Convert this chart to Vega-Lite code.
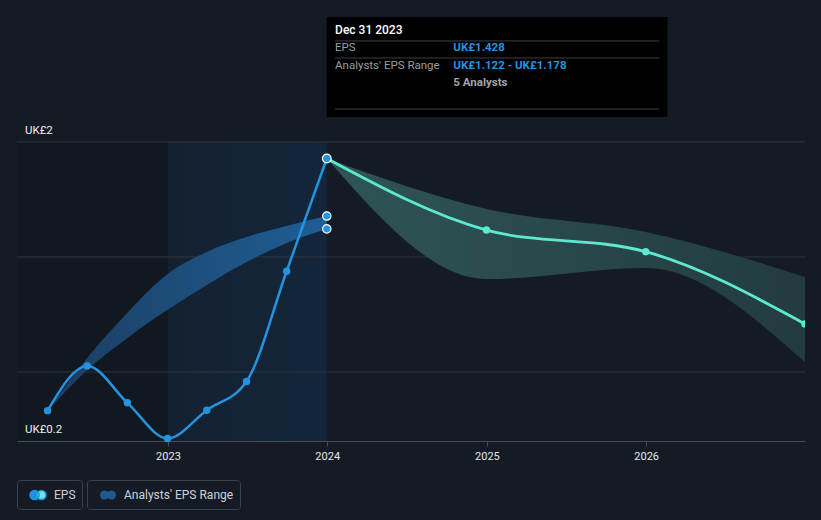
{
  "$schema": "https://vega.github.io/schema/vega-lite/v6.json",
  "width": 788,
  "height": 441,
  "autosize": {"type": "none"},
  "padding": {"left": 17, "right": 16, "top": 0, "bottom": 79},
  "background": "#151b24",
  "config": {
    "view": {"stroke": null},
    "font": "Roboto",
    "axisX": {
      "labelColor": "#e6e8ea",
      "labelFontSize": 11,
      "labelFont": "Roboto",
      "domainColor": "#474d55",
      "tickColor": "#474d55",
      "tickSize": 5,
      "labelPadding": 4,
      "grid": false
    },
    "legend": {"layout": {"bottom": {"anchor": "start", "direction": "horizontal", "margin": 5}}}
  },
  "datasets": {
    "eps": [
      {"date": "2022-03-31", "eps": 0.332},
      {"date": "2022-06-30", "eps": 0.526},
      {"date": "2022-09-30", "eps": 0.366},
      {"date": "2022-12-31", "eps": 0.211},
      {"date": "2023-03-31", "eps": 0.334},
      {"date": "2023-06-30", "eps": 0.459},
      {"date": "2023-09-30", "eps": 0.938},
      {"date": "2023-12-31", "eps": 1.428}
    ],
    "pastRange": [
      {"date": "2022-03-31", "low": 0.332, "high": 0.332},
      {"date": "2022-06-30", "low": 0.509, "high": 0.561},
      {"date": "2022-09-30", "low": 0.648, "high": 0.757},
      {"date": "2022-12-31", "low": 0.770, "high": 0.926},
      {"date": "2023-03-31", "low": 0.878, "high": 1.022},
      {"date": "2023-06-30", "low": 0.978, "high": 1.087},
      {"date": "2023-09-30", "low": 1.061, "high": 1.135},
      {"date": "2023-12-31", "low": 1.122, "high": 1.178}
    ],
    "forecast": [
      {"date": "2023-12-31", "eps": 1.428, "low": 1.428, "high": 1.428},
      {"date": "2024-12-31", "eps": 1.117, "low": 0.904, "high": 1.209},
      {"date": "2025-12-31", "eps": 1.023, "low": 0.952, "high": 1.109},
      {"date": "2026-12-31", "eps": 0.709, "low": 0.543, "high": 0.913}
    ],
    "rangeEnds": [
      {"date": "2023-12-31", "eps": 1.178},
      {"date": "2023-12-31", "eps": 1.122}
    ],
    "grid": [{"v": 0.5}, {"v": 1.0}, {"v": 1.5}],
    "ylabels": [
      {"date": "2022-01-20", "v": 1.5, "label": "UK£2"},
      {"date": "2022-01-20", "v": 0.2, "label": "UK£0.2"}
    ],
    "before": [{"date": "2022-01-20", "end": "2023-01-01"}],
    "lastYear": [{"date": "2023-01-01", "end": "2023-12-31"}],
    "tipBox": [{"date": "2023-12-31", "end": "2026-02-19"}],
    "tipSeps": [
      {"date": "2024-01-19", "end": "2026-01-31", "v": 1.939},
      {"date": "2024-01-19", "end": "2026-01-31", "v": 1.865},
      {"date": "2024-01-19", "end": "2026-01-31", "v": 1.643}
    ],
    "tipTitle": [{"date": "2024-01-19", "v": 1.987, "label": "Dec 31 2023"}],
    "tipKeys": [
      {"date": "2024-01-19", "v": 1.909, "label": "EPS"},
      {"date": "2024-01-19", "v": 1.830, "label": "Analysts' EPS Range"}
    ],
    "tipVals": [
      {"date": "2024-10-16", "v": 1.909, "label": "UK£1.428"},
      {"date": "2024-10-16", "v": 1.830, "label": "UK£1.122 - UK£1.178"}
    ],
    "tipNote": [{"date": "2024-10-16", "v": 1.757, "label": "5 Analysts"}]
  },
  "layer": [
    {
      "data": {"name": "before"},
      "mark": {"type": "rect", "color": "rgba(0,0,0,0.1)"},
      "encoding": {
        "x": {"field": "date", "type": "temporal", "scale": {"domain": [{"year": 2022, "month": 1, "date": 20}, {"year": 2026, "month": 12, "date": 31}]}, "axis": {"title": null}},
        "x2": {"field": "end"},
        "y": {"datum": 0.2, "type": "quantitative", "scale": {"domain": [0.2, 2.117], "nice": false, "zero": false}, "axis": null},
        "y2": {"datum": 1.5}
      }
    },
    {
      "data": {"name": "lastYear"},
      "mark": {"type": "rect", "color": {"gradient": "linear", "x1": 0, "x2": 1, "y1": 0, "y2": 0, "stops": [{"offset": 0, "color": "rgba(15,60,106,0.17)"}, {"offset": 1, "color": "rgba(15,60,106,0.34)"}]}},
      "encoding": {
        "x": {"field": "date", "type": "temporal", "axis": {"title": null}},
        "x2": {"field": "end"},
        "y": {"datum": 0.2, "type": "quantitative", "axis": null},
        "y2": {"datum": 1.5}
      }
    },
    {
      "data": {"name": "grid"},
      "mark": {"type": "rule", "color": "#2f353e", "strokeWidth": 1},
      "encoding": {
        "y": {"field": "v", "type": "quantitative", "axis": null}
      }
    },
    {
      "mark": {"type": "rule", "color": "#1f3b57", "strokeWidth": 1},
      "encoding": {
        "x": {"datum": {"year": 2023, "month": 1, "date": 1}, "type": "temporal", "axis": {"title": null}},
        "y": {"datum": 0.2, "type": "quantitative", "axis": null},
        "y2": {"datum": 1.5}
      }
    },
    {
      "mark": {"type": "rule", "color": "#2c465f", "strokeWidth": 1},
      "encoding": {
        "x": {"datum": {"year": 2023, "month": 12, "date": 31}, "type": "temporal", "axis": {"title": null}},
        "y": {"datum": 0.2, "type": "quantitative", "axis": null},
        "y2": {"datum": 2.0435}
      }
    },
    {
      "data": {"name": "pastRange"},
      "mark": {"type": "area", "interpolate": "monotone", "color": {"gradient": "linear", "x1": 0, "x2": 1, "y1": 0, "y2": 0, "stops": [{"offset": 0, "color": "#1b3d61"}, {"offset": 1, "color": "#1f5e95"}]}},
      "encoding": {
        "x": {"field": "date", "type": "temporal", "axis": {"title": null}},
        "y": {"field": "high", "type": "quantitative", "axis": null},
        "y2": {"field": "low"}
      }
    },
    {
      "data": {"name": "forecast"},
      "mark": {"type": "area", "interpolate": "monotone", "color": {"gradient": "linear", "x1": 0, "x2": 1, "y1": 0, "y2": 0, "stops": [{"offset": 0, "color": "#2f5556"}, {"offset": 1, "color": "#223b3f"}]}},
      "encoding": {
        "x": {"field": "date", "type": "temporal", "axis": {"title": null}},
        "y": {"field": "high", "type": "quantitative", "axis": null},
        "y2": {"field": "low"}
      }
    },
    {
      "data": {"name": "eps"},
      "mark": {"type": "line", "interpolate": "monotone", "strokeWidth": 2.5},
      "encoding": {
        "x": {
          "field": "date",
          "type": "temporal",
          "axis": {
            "title": null,
            "format": "%Y",
            "tickCount": {"interval": "year", "step": 1}
          }
        },
        "y": {"field": "eps", "type": "quantitative", "axis": null},
        "color": {
          "datum": "EPS",
          "type": "nominal",
          "scale": {"range": ["#2394df"]},
          "legend": {
            "title": null,
            "orient": "bottom",
            "direction": "horizontal",
            "symbolType": "M-1,0a0.57,0.57 0 1,0 1.14,0a0.57,0.57 0 1,0 -1.14,0ZM-0.14,0a0.57,0.57 0 1,0 1.14,0a0.57,0.57 0 1,0 -1.14,0Z",
            "symbolSize": 256,
            "symbolOpacity": 1,
            "labelFontSize": 12,
            "labelColor": "#cdd1d6",
            "labelFont": "Roboto",
            "labelOffset": 7,
            "strokeColor": "#3b424c",
            "fillColor": "#151b24",
            "padding": 6,
            "cornerRadius": 3,
            "symbolOffset": 6,
            "offset": 19,
            "encode": {
              "symbols": {
                "update": {
                  "fill": {"value": {"gradient": "linear", "x1": 0, "x2": 1, "y1": 0, "y2": 0, "stops": [{"offset": 0, "color": "#1f90e6"}, {"offset": 0.43, "color": "#1f90e6"}, {"offset": 0.43, "color": "#6ce6d6"}, {"offset": 1, "color": "#6ce6d6"}]}},
                  "stroke": {"value": "transparent"},
                  "opacity": {"value": 1}
                }
              }
            }
          }
        }
      }
    },
    {
      "data": {"name": "pastRange"},
      "mark": {"type": "area", "interpolate": "monotone", "opacity": 0},
      "encoding": {
        "x": {"field": "date", "type": "temporal", "axis": {"title": null}},
        "y": {"field": "high", "type": "quantitative", "axis": null},
        "y2": {"field": "low"},
        "fill": {
          "datum": "Analysts' EPS Range",
          "type": "nominal",
          "scale": {"range": ["#1f5a8c"]},
          "legend": {
            "title": null,
            "orient": "bottom",
            "direction": "horizontal",
            "symbolType": "M-1,0a0.57,0.57 0 1,0 1.14,0a0.57,0.57 0 1,0 -1.14,0ZM-0.14,0a0.57,0.57 0 1,0 1.14,0a0.57,0.57 0 1,0 -1.14,0Z",
            "symbolSize": 256,
            "symbolOpacity": 1,
            "labelFontSize": 12,
            "labelColor": "#cdd1d6",
            "labelFont": "Roboto",
            "labelOffset": 7,
            "strokeColor": "#3b424c",
            "fillColor": "#151b24",
            "padding": 6,
            "cornerRadius": 3,
            "symbolOffset": 6,
            "offset": 19,
            "encode": {
              "symbols": {
                "update": {
                  "fill": {"value": {"gradient": "linear", "x1": 0, "x2": 1, "y1": 0, "y2": 0, "stops": [{"offset": 0, "color": "#235e8e"}, {"offset": 0.43, "color": "#235e8e"}, {"offset": 0.43, "color": "#3d7f7b"}, {"offset": 1, "color": "#3d7f7b"}]}},
                  "stroke": {"value": "transparent"},
                  "opacity": {"value": 1}
                }
              }
            }
          }
        }
      }
    },
    {
      "data": {"name": "forecast"},
      "mark": {"type": "line", "interpolate": "monotone", "strokeWidth": 2.8, "color": "#5ee8d0"},
      "encoding": {
        "x": {"field": "date", "type": "temporal", "axis": {"title": null}},
        "y": {"field": "eps", "type": "quantitative", "axis": null}
      }
    },
    {
      "data": {"name": "eps"},
      "transform": [{"filter": {"field": "eps", "lt": 1.4}}],
      "mark": {"type": "circle", "size": 55, "color": "#2394df", "opacity": 1},
      "encoding": {
        "x": {"field": "date", "type": "temporal", "axis": {"title": null}},
        "y": {"field": "eps", "type": "quantitative", "axis": null}
      }
    },
    {
      "data": {"name": "forecast"},
      "transform": [{"filter": {"field": "eps", "lt": 1.4}}],
      "mark": {"type": "circle", "size": 55, "color": "#5ee8d0", "opacity": 1, "clip": true},
      "encoding": {
        "x": {"field": "date", "type": "temporal", "axis": {"title": null}},
        "y": {"field": "eps", "type": "quantitative", "axis": null}
      }
    },
    {
      "data": {"name": "rangeEnds"},
      "mark": {"type": "point", "shape": "circle", "size": 70, "filled": true, "fill": "#2394df", "stroke": "#ffffff", "strokeWidth": 1.2, "opacity": 1},
      "encoding": {
        "x": {"field": "date", "type": "temporal", "axis": {"title": null}},
        "y": {"field": "eps", "type": "quantitative", "axis": null}
      }
    },
    {
      "data": {"name": "eps"},
      "transform": [{"filter": {"field": "eps", "gt": 1.4}}],
      "mark": {"type": "point", "shape": "circle", "size": 75, "filled": true, "fill": "#2394df", "stroke": "#ffffff", "strokeWidth": 1.2, "opacity": 1},
      "encoding": {
        "x": {"field": "date", "type": "temporal", "axis": {"title": null}},
        "y": {"field": "eps", "type": "quantitative", "axis": null}
      }
    },
    {
      "mark": {"type": "text", "align": "right", "baseline": "middle", "dx": -8, "fontSize": 12, "color": "#ffffff", "text": "Actual"},
      "encoding": {
        "x": {"datum": {"year": 2023, "month": 12, "date": 31}, "type": "temporal", "axis": {"title": null}},
        "y": {"datum": 1.443, "type": "quantitative", "axis": null}
      }
    },
    {
      "mark": {"type": "text", "align": "left", "baseline": "middle", "dx": 8, "fontSize": 12, "color": "#8c9097", "text": "Analysts Forecasts"},
      "encoding": {
        "x": {"datum": {"year": 2023, "month": 12, "date": 31}, "type": "temporal", "axis": {"title": null}},
        "y": {"datum": 1.443, "type": "quantitative", "axis": null}
      }
    },
    {
      "data": {"name": "ylabels"},
      "mark": {"type": "text", "align": "left", "baseline": "middle", "dx": 8, "dy": -11, "fontSize": 11.5, "color": "#eceef0"},
      "encoding": {
        "x": {"field": "date", "type": "temporal", "axis": {"title": null}},
        "y": {"field": "v", "type": "quantitative", "axis": null},
        "text": {"field": "label"}
      }
    },
    {
      "data": {"name": "tipBox"},
      "mark": {"type": "rect", "color": "#000000", "opacity": 1},
      "encoding": {
        "x": {"field": "date", "type": "temporal", "axis": {"title": null}},
        "x2": {"field": "end"},
        "y": {"datum": 1.6087, "type": "quantitative", "axis": null},
        "y2": {"datum": 2.0435}
      }
    },
    {
      "data": {"name": "tipSeps"},
      "mark": {"type": "rule", "color": "#3d3f42", "strokeWidth": 1},
      "encoding": {
        "x": {"field": "date", "type": "temporal", "axis": {"title": null}},
        "x2": {"field": "end"},
        "y": {"field": "v", "type": "quantitative", "axis": null}
      }
    },
    {
      "data": {"name": "tipTitle"},
      "mark": {"type": "text", "align": "left", "baseline": "middle", "fontSize": 12, "fontWeight": 500, "color": "#ffffff"},
      "encoding": {
        "x": {"field": "date", "type": "temporal", "axis": {"title": null}},
        "y": {"field": "v", "type": "quantitative", "axis": null},
        "text": {"field": "label"}
      }
    },
    {
      "data": {"name": "tipKeys"},
      "mark": {"type": "text", "align": "left", "baseline": "middle", "fontSize": 11.5, "color": "#9b9ea2"},
      "encoding": {
        "x": {"field": "date", "type": "temporal", "axis": {"title": null}},
        "y": {"field": "v", "type": "quantitative", "axis": null},
        "text": {"field": "label"}
      }
    },
    {
      "data": {"name": "tipVals"},
      "mark": {"type": "text", "align": "left", "baseline": "middle", "fontSize": 11.5, "fontWeight": "bold", "color": "#2394df"},
      "encoding": {
        "x": {"field": "date", "type": "temporal", "axis": {"title": null}},
        "y": {"field": "v", "type": "quantitative", "axis": null},
        "text": {"field": "label"}
      }
    },
    {
      "data": {"name": "tipNote"},
      "mark": {"type": "text", "align": "left", "baseline": "middle", "fontSize": 11.5, "fontWeight": "bold", "color": "#a4a6a9"},
      "encoding": {
        "x": {"field": "date", "type": "temporal", "axis": {"title": null}},
        "y": {"field": "v", "type": "quantitative", "axis": null},
        "text": {"field": "label"}
      }
    }
  ]
}
